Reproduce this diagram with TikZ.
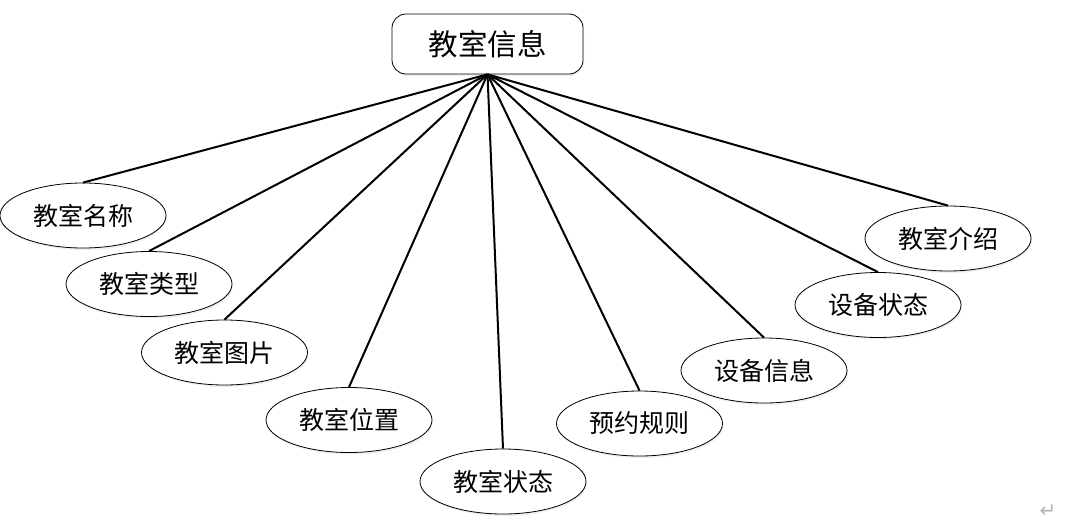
\documentclass[tikz,border=0pt]{standalone}
\usepackage{fontspec}
\newfontfamily\cjk{Noto Sans CJK SC}
\newfontfamily\sym{DejaVu Sans}
\usetikzlibrary{shapes.geometric,shadows}
\begin{document}
\begin{tikzpicture}[x=1pt,y=-1pt,
  attr/.style={ellipse,draw=black,line width=0.8pt,fill=white,minimum width=166pt,minimum height=65pt,inner sep=0pt,
    font=\cjk\fontsize{25}{28}\selectfont,
    drop shadow={shadow xshift=1pt,shadow yshift=-2pt,opacity=0.12,fill=gray}},
  ent/.style={rounded corners=14pt,draw=black,line width=0.8pt,fill=white,minimum width=191pt,minimum height=60pt,inner sep=0pt,
    font=\cjk\fontsize{29.5}{32}\selectfont,
    drop shadow={shadow xshift=1pt,shadow yshift=-2pt,opacity=0.12,fill=gray}},
  link/.style={line width=2pt,black}]
\useasboundingbox (0,0) rectangle (1070,525);
\node[ent] (top) at (487.5,44) {教室信息};
\node[attr] (a1) at (83,215.5) {教室名称};
\node[attr] (a2) at (149,284) {教室类型};
\node[attr] (a3) at (224.5,352.5) {教室图片};
\node[attr] (a4) at (349,420) {教室位置};
\node[attr] (a5) at (503,481.5) {教室状态};
\node[attr] (a6) at (639.5,423.5) {预约规则};
\node[attr] (a7) at (764,370.5) {设备信息};
\node[attr] (a8) at (878,305) {设备状态};
\node[attr] (a9) at (948,238.5) {教室介绍};
\foreach \n in {a1,a2,a3,a4,a5,a6,a7,a8,a9}
  \draw[link] (top.south) -- (\n.north);
\node[font=\sym\fontsize{20}{22}\selectfont,text=gray!60,inner sep=0pt] (pm) at (1048,511) {↵};
\end{tikzpicture}
\end{document}
